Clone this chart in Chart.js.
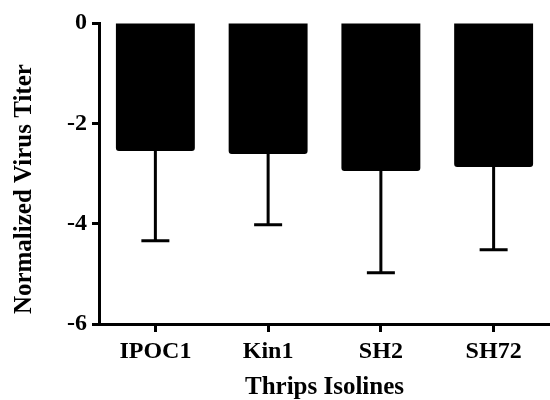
<!DOCTYPE html>
<html>
<head>
<meta charset="utf-8">
<script src="https://cdn.jsdelivr.net/npm/chart.js@4/dist/chart.umd.min.js"></script>
<style>
  html, body { margin: 0; padding: 0; background: #fff; }
  #wrap { width: 550px; height: 400px; position: relative; }
</style>
</head>
<body>
<div id="wrap"><canvas id="chart"></canvas></div>
<script>
/* ---------- data ---------- */
const isolines  = ['IPOC1', 'Kin1', 'SH2', 'SH72'];
const titerMean = [-2.55, -2.61, -2.95, -2.87];
const titerSD   = [1.79, 1.41, 2.03, 1.65];
const yTicks    = [0, -2, -4, -6];

const serif = '"Liberation Serif", "Times New Roman", serif';

/* ---------- error bars (downward whisker only) ---------- */
const errorBars = {
  id: 'errorBars',
  afterDatasetsDraw(chart) {
    const { ctx, scales: { y } } = chart;
    const meta = chart.getDatasetMeta(0);
    ctx.save();
    ctx.strokeStyle = '#000';
    ctx.lineWidth = 3;
    meta.data.forEach((bar, i) => {
      const yEnd = y.getPixelForValue(titerMean[i]);
      const yErr = y.getPixelForValue(titerMean[i] - titerSD[i]);
      ctx.beginPath();
      ctx.moveTo(bar.x, yEnd);
      ctx.lineTo(bar.x, yErr);
      ctx.moveTo(bar.x - 14, yErr);
      ctx.lineTo(bar.x + 14, yErr);
      ctx.stroke();
    });
    ctx.restore();
  }
};

/* ---------- chart ---------- */
new Chart(document.getElementById('chart').getContext('2d'), {
  type: 'bar',
  data: {
    labels: isolines,
    datasets: [{
      data: titerMean,
      backgroundColor: '#000',
      borderWidth: 0,
      borderRadius: 3,
      categoryPercentage: 1,
      barPercentage: 0.7
    }]
  },
  options: {
    responsive: true,
    maintainAspectRatio: false,
    animation: false,
    layout: { padding: { top: 23, right: 0, left: 0, bottom: 0 } },
    plugins: { legend: { display: false }, tooltip: { enabled: false } },
    scales: {
      x: {
        afterFit: s => { s.height = 76; },
        grid: { drawOnChartArea: false, offset: false, tickLength: 8, tickWidth: 3, color: '#000' },
        border: { color: '#000', width: 3 },
        ticks: { color: '#000', padding: 5, font: { family: serif, size: 24, weight: 'bold' } },
        title: {
          display: true,
          text: 'Thrips Isolines',
          color: '#000',
          padding: { top: 0, bottom: 0 },
          font: { family: serif, size: 25, weight: 'bold', lineHeight: 1.0 }
        }
      },
      y: {
        min: -6,
        max: 0,
        afterFit: s => { s.width = 99; },
        afterBuildTicks: s => { s.ticks = yTicks.map(v => ({ value: v })); },
        grid: { drawOnChartArea: false, tickLength: 7, tickWidth: 3, color: '#000' },
        border: { color: '#000', width: 3 },
        ticks: { color: '#000', padding: 5, font: { family: serif, size: 24, weight: 'bold' } },
        title: {
          display: true,
          text: 'Normalized Virus Titer     ',
          color: '#000',
          padding: { top: 10, bottom: 0 },
          font: { family: serif, size: 25, weight: 'bold' }
        }
      }
    }
  },
  plugins: [errorBars]
});
</script>
</body>
</html>
